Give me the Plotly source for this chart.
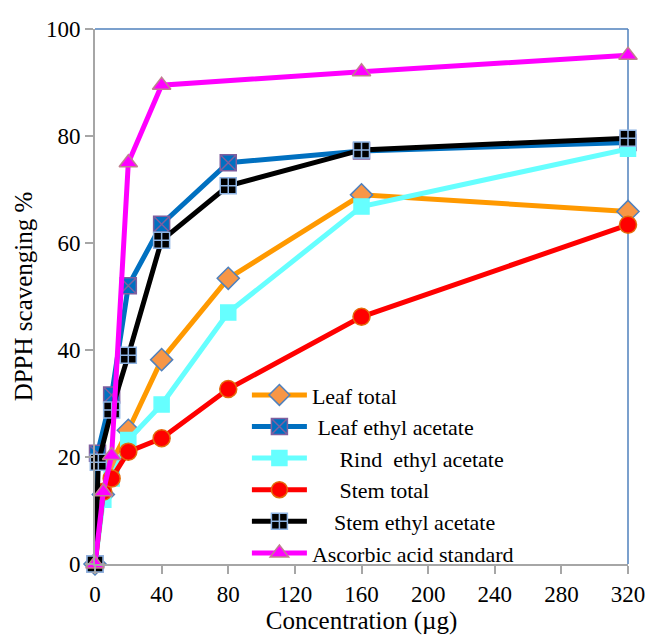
import plotly.graph_objects as go

# ---- data ----
leaf_total_x = [0, 5, 10, 20, 40, 80, 160, 320]
leaf_total_y = [0, 13, 19, 25.0, 38.2, 53.4, 69.0, 65.9]

leaf_ea_x = [0, 1.5, 10, 20, 40, 80, 160, 320]
leaf_ea_y = [0, 20.7, 31.6, 52.0, 63.5, 75.0, 77.2, 78.8]

rind_ea_x = [0, 5, 10, 20, 40, 80, 160, 320]
rind_ea_y = [0, 12.0, 16.0, 23.2, 29.8, 47.0, 66.8, 77.6]

stem_total_x = [0, 5, 10, 20, 40, 80, 160, 320]
stem_total_y = [0, 13.5, 16.0, 21.0, 23.5, 32.7, 46.2, 63.4]

stem_ea_x = [0, 2, 10, 20, 40, 80, 160, 320]
stem_ea_y = [0, 19.0, 28.8, 39.0, 60.5, 70.7, 77.4, 79.6]

ascorbic_x = [0, 5, 10, 20, 40, 160, 320]
ascorbic_y = [0, 13.5, 20.3, 75.0, 89.5, 92.0, 95.1]

x_ticks = [0, 40, 80, 120, 160, 200, 240, 280, 320]
y_ticks = [0, 20, 40, 60, 80, 100]

names = ["Leaf total",
         "\u00a0Leaf ethyl acetate",
         "\u00a0\u00a0\u00a0\u00a0\u00a0Rind \u00a0ethyl acetate",
         "\u00a0\u00a0\u00a0\u00a0\u00a0Stem total",
         "\u00a0\u00a0\u00a0\u00a0Stem ethyl acetate",
         "Ascorbic acid standard"]

FONT = "Liberation Serif, Times New Roman, serif"

fig = go.Figure()

def add(x, y, name, lcolor, symbol, mcolor, mline, size, mlw=1.5):
    fig.add_trace(go.Scatter(
        x=x, y=y, name=name, mode="lines+markers",
        line=dict(color=lcolor, width=5),
        marker=dict(symbol=symbol, color=mcolor, size=size,
                    line=dict(color=mline, width=mlw)),
        cliponaxis=False))

add(leaf_total_x, leaf_total_y, names[0], "#FF9900", "diamond", "#F79646", "#4F81BD", 17)
add(leaf_ea_x, leaf_ea_y, names[1], "#0070C0", "square-x", "#0070C0", "#7F5F9F", 16)
add(rind_ea_x, rind_ea_y, names[2], "#66FFFF", "square", "#66FFFF", "#66FFFF", 15)
add(stem_total_x, stem_total_y, names[3], "#FF0000", "circle", "#FF0000", "#E46C0A", 17)
add(stem_ea_x, stem_ea_y, names[4], "#000000", "square-cross", "#000000", "#8EB4E3", 16)
add(ascorbic_x, ascorbic_y, names[5], "#FF00FF", "triangle-up", "#FF00FF", "#C0808F", 16)

fig.update_layout(
    width=649, height=637,
    margin=dict(l=95, r=21, t=29, b=73),
    paper_bgcolor="white", plot_bgcolor="white",
    font=dict(family=FONT, size=22, color="black"),
    showlegend=True,
    legend=dict(x=0.285, y=0.168, xanchor="left", yanchor="middle",
                bgcolor="rgba(255,255,255,0)", font=dict(family=FONT, size=22),
                tracegroupgap=0, itemwidth=55),
    xaxis=dict(range=[0, 320], tickmode="array", tickvals=x_ticks,
               ticktext=[str(v) for v in x_ticks], automargin=False,
               showgrid=False, zeroline=False, showline=True,
               linecolor="#A6A6A6", linewidth=2, ticks="outside",
               ticklen=8, tickcolor="#A6A6A6", tickwidth=2,
               tickfont=dict(family=FONT, size=23),
               title=dict(text="Concentration (µg)", font=dict(family=FONT, size=25),
                          standoff=0)),
    yaxis=dict(range=[0, 100], tickmode="array", tickvals=y_ticks,
               ticktext=[str(v) for v in y_ticks], automargin=False,
               showgrid=False, zeroline=False, showline=True,
               linecolor="#A6A6A6", linewidth=2, ticks="outside",
               ticklen=8, tickcolor="#A6A6A6", tickwidth=2,
               tickfont=dict(family=FONT, size=23),
               title=dict(text="DPPH scavenging %", font=dict(family=FONT, size=25),
                          standoff=6)),
    shapes=[
        dict(type="line", xref="paper", yref="paper", x0=0, x1=1, y0=1, y1=1,
             line=dict(color="#4F81BD", width=1.5), layer="below"),
        dict(type="line", xref="paper", yref="paper", x0=1, x1=1, y0=0, y1=1,
             line=dict(color="#4F81BD", width=1.5), layer="below"),
    ],
)

fig.write_html("out.html",
               config={"displayModeBar": False},
               post_script="document.body.style.margin='0';document.body.style.overflow='hidden';")
